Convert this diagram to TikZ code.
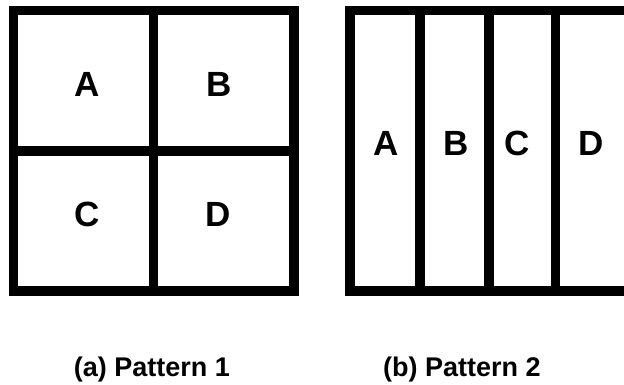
\documentclass[tikz,border=0pt]{standalone}
\usepackage{fontspec}
\setmainfont{Liberation Sans}
\begin{document}
\begin{tikzpicture}[x=1pt,y=-1pt,
  grid/.style={line width=9.5pt, draw=black},
  cell/.style={inner sep=0pt, font=\fontsize{35}{35}\selectfont\bfseries},
  captext/.style={inner sep=0pt, anchor=base, font=\fontsize{27}{27}\selectfont\bfseries}]
\useasboundingbox (0,0) rectangle (624,384);
\clip (0,0) rectangle (624,384);
% pattern 1
\draw[grid] (13.5,10.5) rectangle (294,291);
\draw[grid] (153.5,10.5) -- (153.5,291);
\draw[grid] (13.5,151) -- (294,151);
\node[cell] (a1) at (87.5,84) {A};
\node[cell] (b1) at (219,84) {B};
\node[cell] (c1) at (87.5,214) {C};
\node[cell] (d1) at (218,214) {D};
% pattern 2
\draw[grid] (350,10.5) rectangle (630.5,291);
\draw[grid] (420,10.5) -- (420,291);
\draw[grid] (489,10.5) -- (489,291);
\draw[grid] (555.5,10.5) -- (555.5,291);
\node[cell] (a2) at (386,143) {A};
\node[cell] (b2) at (456,143) {B};
\node[cell] (c2) at (517,143) {C};
\node[cell] (d2) at (591,143) {D};
% captions
\node[captext] (capa) at (152,376) {(a) Pattern 1};
\node[captext] (capb) at (462,376) {(b) Pattern 2};
\end{tikzpicture}
\end{document}
